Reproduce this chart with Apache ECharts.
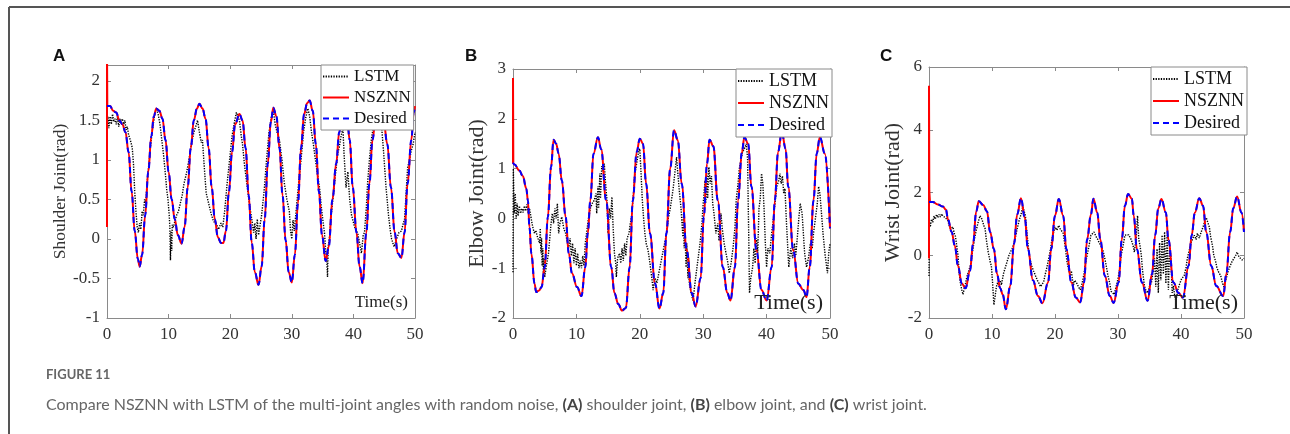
<!DOCTYPE html>
<html>
<head>
<meta charset="utf-8">
<title>Figure 11</title>
<script src="https://cdn.jsdelivr.net/npm/echarts@6/dist/echarts.min.js"></script>
<style>
html, body { margin: 0; padding: 0; background: #fff; }
#main { width: 1290px; height: 434px; }
</style>
</head>
<body>
<div id="main"></div>
<script>
// x ticks shared by all three panels
var timeTicks = [0, 10, 20, 30, 40, 50];
var seriesNames = ['LSTM', 'NSZNN', 'Desired'];

// (A) shoulder joint, [time s, angle rad]
var aDesired = [[0,1.68],[0.5,1.68],[1,1.62],[1.5,1.6],[2,1.5],[2.5,1.45],[3,1.35],[3.5,1.1],[4,0.6],[4.5,0.1],[5,-0.25],[5.3,-0.35],[5.7,-0.2],[6.2,0.3],[6.7,0.85],[7.2,1.3],[7.6,1.55],[8,1.65],[8.5,1.62],[9,1.52],[9.5,1.25],[10,0.85],[10.5,0.5],[11,0.25],[11.5,0.05],[12.1,-0.06],[12.6,0.15],[13.1,0.65],[13.6,1.15],[14.1,1.5],[14.6,1.65],[15,1.71],[15.5,1.65],[16,1.52],[16.5,1.15],[17,0.65],[17.5,0.25],[18,0.02],[18.5,-0.05],[18.9,-0.05],[19.3,0.1],[19.8,0.6],[20.3,1.1],[20.8,1.45],[21.5,1.58],[22,1.5],[22.5,1.15],[23,0.55],[23.5,-0.05],[24,-0.42],[24.6,-0.58],[25.1,-0.35],[25.6,0.25],[26.1,0.95],[26.6,1.48],[27,1.66],[27.5,1.55],[28,1.15],[28.5,0.55],[29,-0.02],[29.5,-0.42],[30,-0.55],[30.5,-0.2],[31,0.45],[31.5,1.15],[32,1.58],[32.5,1.72],[32.9,1.75],[33.4,1.62],[33.9,1.2],[34.4,0.6],[34.9,0.05],[35.5,-0.28],[36,-0.1],[36.6,0.5],[37.2,0.95],[37.7,1.35],[38.2,1.6],[38.6,1.66],[39,1.5],[39.4,1.25],[39.9,0.65],[40.5,0.08],[41,-0.35],[41.5,-0.56],[42.1,0.08],[42.6,0.7],[43.1,1.25],[43.7,1.62],[44.3,1.72],[44.9,1.5],[45.5,1.2],[46.1,0.65],[46.7,0.08],[47.2,-0.18],[47.8,-0.24],[48.3,0.08],[48.8,0.7],[49.4,1.25],[49.8,1.6],[50,1.68]];
var aSpike = [[0,0.15],[0,2.4],[0.05,1.68]];
var aLstm = [[0,1.4],[0.15,1.55],[0.3,1.4],[0.5,1.55],[0.7,1.45],[0.9,1.58],[1.1,1.48],[1.3,1.52],[1.5,1.45],[1.7,1.55],[1.9,1.42],[2.1,1.52],[2.3,1.47],[2.5,1.52],[2.7,1.45],[2.9,1.5],[3.1,1.38],[3.3,1.42],[3.5,1.32],[3.7,1.3],[3.9,1.22],[4.1,1.15],[4.3,0.95],[4.5,0.6],[4.7,0.35],[4.9,0.15],[5.1,0.08],[5.3,0.2],[5.5,0.12],[5.7,0.35],[5.9,0.3],[6.1,0.5],[6.3,0.45],[6.5,0.7],[6.8,0.95],[7.1,1.2],[7.4,1.4],[7.7,1.55],[8,1.65],[8.3,1.58],[8.6,1.45],[8.9,1.25],[9.2,1.05],[9.5,0.8],[9.7,0.62],[9.9,0.5],[10.1,0.3],[10.2,0.15],[10.3,-0.27],[10.4,0.1],[10.5,-0.15],[10.6,0.18],[10.8,0.15],[11,0.22],[11.3,0.3],[11.6,0.35],[11.9,0.45],[12.2,0.55],[12.5,0.7],[12.9,0.83],[13.3,1.0],[13.7,1.2],[14.1,1.35],[14.4,1.42],[14.7,1.5],[15,1.35],[15.3,1.22],[15.5,1.25],[15.8,0.9],[16.1,0.58],[16.5,0.45],[16.9,0.32],[17.3,0.22],[17.7,0.2],[18.1,0.12],[18.5,0.2],[18.8,0.15],[19.1,0.35],[19.5,0.7],[19.9,1.0],[20.3,1.3],[20.7,1.48],[21,1.6],[21.2,1.62],[21.5,1.5],[21.8,1.3],[22,1.2],[22.3,0.95],[22.7,0.7],[23.1,0.45],[23.5,0.25],[23.8,0.08],[24,0.2],[24.2,0.0],[24.4,0.25],[24.6,0.05],[24.8,0.15],[25.1,0.3],[25.5,0.6],[25.9,1.0],[26.3,1.35],[26.7,1.55],[27,1.62],[27.3,1.45],[27.6,1.35],[28,1.25],[28.4,1.0],[28.8,0.7],[29.2,0.5],[29.6,0.35],[29.8,0.1],[30,0.0],[30.2,0.24],[30.4,0.1],[30.7,0.35],[31.1,0.7],[31.5,1.0],[31.9,1.35],[32.3,1.55],[32.6,1.65],[32.9,1.55],[33.2,1.35],[33.5,1.2],[33.7,1.08],[34.1,0.85],[34.5,0.65],[34.8,0.4],[35.1,0.2],[35.3,0.08],[35.5,-0.15],[35.7,-0.3],[35.8,-0.48],[35.9,-0.1],[36.1,0.0],[36.4,0.3],[36.8,0.6],[37.2,0.9],[37.5,1.1],[37.7,1.16],[38,1.3],[38.3,1.4],[38.5,1.05],[38.8,0.65],[39.1,0.85],[39.4,0.5],[39.7,0.3],[39.9,0.24],[40.2,0.15],[40.5,0.1],[40.7,0.07],[41,-0.05],[41.3,-0.18],[41.6,0.05],[41.8,0.08],[42.1,0.4],[42.3,0.7],[42.6,1.0],[42.9,1.25],[43.3,1.45],[43.7,1.55],[44.1,1.6],[44.5,1.5],[44.9,1.1],[45.3,0.65],[45.7,0.3],[46,0.1],[46.2,0.0],[46.6,-0.1],[47,0.0],[47.4,0.08],[47.8,0.1],[48.1,0.2],[48.3,0.24],[48.5,0.5],[48.8,0.9],[49.1,1.0],[49.4,1.12],[49.7,1.2],[50,1.35]];

// (B) elbow joint
var bDesired = [[0,1.12],[0.25,1.08],[1,0.96],[1.55,0.85],[2.1,0.6],[2.35,0.36],[2.6,-0.18],[2.9,-0.71],[3.4,-1.31],[3.65,-1.48],[4.1,-1.45],[4.5,-1.38],[5,-0.98],[5.5,0.03],[6,1.03],[6.4,1.58],[6.8,1.5],[7.2,1.3],[7.7,0.76],[8.3,0.03],[8.8,-0.7],[9.3,-1.1],[10.1,-1.38],[10.8,-1.56],[11.4,-0.98],[11.8,-0.3],[12.2,0.36],[12.7,1.3],[13.4,1.63],[13.9,1.39],[14.7,0.36],[15.5,-0.98],[16,-1.5],[16.6,-1.72],[17.2,-1.85],[17.8,-1.8],[18.4,-0.98],[18.9,0.36],[19.5,1.33],[20,1.6],[20.5,1.5],[21,0.7],[21.6,-0.3],[22.4,-1.3],[23.1,-1.81],[23.7,-1.5],[24.2,-0.3],[24.8,1.0],[25.4,1.77],[26,1.57],[26.6,0.7],[27.4,-0.64],[28.2,-1.5],[28.8,-1.77],[29.6,-1.2],[30.1,0.03],[30.6,1.1],[31,1.58],[31.6,1.45],[32.3,0.36],[33.1,-0.98],[33.8,-1.5],[34.3,-1.65],[35,-0.98],[35.5,0.36],[36.1,1.33],[36.5,1.63],[37.1,1.5],[37.6,0.64],[38.4,-0.64],[39.2,-1.44],[40,-1.65],[40.8,-0.98],[41.3,0.36],[41.8,1.33],[42.4,1.73],[43,1.4],[43.4,0.64],[44.2,-0.64],[45,-1.31],[45.8,-1.44],[46.3,-1.58],[46.8,-0.98],[47.4,0.36],[47.9,1.3],[48.4,1.63],[49.2,1.3],[50,-0.2]];
var bSpike = [[0,1.1],[0,2.82],[0.05,1.12]];
var bLstm = [[0,-1.08],[0.05,1.0],[0.2,0.1],[0.35,0.5],[0.5,0.0],[0.65,0.3],[0.8,0.05],[1,0.25],[1.2,0.1],[1.4,0.2],[1.6,0.12],[1.8,0.25],[2,0.15],[2.2,0.28],[2.4,0.1],[2.6,0.2],[2.8,0.05],[3,-0.1],[3.2,-0.22],[3.4,-0.3],[3.6,-0.24],[3.8,-0.35],[4,-0.32],[4.2,-0.5],[4.3,-0.2],[4.4,-0.7],[4.5,-0.4],[4.6,-0.95],[4.7,-0.6],[4.8,-1.1],[4.9,-0.8],[5,-1.18],[5.2,-1.0],[5.4,-0.85],[5.6,-0.7],[5.8,-0.4],[6,-0.1],[6.2,0.1],[6.4,-0.1],[6.6,0.2],[6.8,0.0],[7,0.3],[7.2,-0.3],[7.4,-0.1],[7.7,0.03],[8,-0.2],[8.3,-0.3],[8.6,-0.5],[8.8,-0.6],[9,-0.4],[9.2,-0.75],[9.4,-0.5],[9.6,-0.9],[9.8,-0.6],[10,-0.95],[10.2,-0.7],[10.4,-1.0],[10.6,-0.85],[10.8,-1.0],[11,-0.75],[11.2,-0.95],[11.4,-0.5],[11.6,-0.3],[11.9,0.0],[12.2,0.2],[12.5,0.3],[12.8,0.36],[13.1,0.5],[13.2,0.1],[13.4,0.64],[13.5,0.2],[13.7,0.9],[13.8,0.4],[14,1.05],[14.2,0.95],[14.4,1.1],[14.6,0.7],[14.8,0.4],[15,-0.3],[15.2,0.2],[15.4,0.0],[15.6,0.43],[15.8,-0.2],[16,-0.7],[16.2,-0.9],[16.3,-1.18],[16.5,-0.8],[16.8,-0.7],[17,-0.9],[17.2,-0.6],[17.4,-0.85],[17.6,-0.5],[17.8,-0.75],[18,-0.4],[18.3,-0.3],[18.5,-0.1],[18.7,0.03],[19,0.5],[19.2,0.87],[19.5,1.1],[19.8,1.33],[20,1.4],[20.2,0.9],[20.4,0.36],[20.6,0.0],[20.8,-0.3],[21,-0.5],[21.3,-0.64],[21.6,-0.9],[21.9,-1.2],[22.1,-1.44],[22.4,-1.2],[22.7,-1.3],[23,-1.1],[23.3,-0.9],[23.7,-0.64],[24,-0.45],[24.2,-0.3],[24.5,0.0],[24.8,0.2],[25.1,0.45],[25.3,0.64],[25.6,1.0],[25.8,1.23],[26,0.9],[26.2,0.6],[26.5,0.2],[26.8,-0.37],[26.9,0.1],[27,-0.6],[27.1,-0.2],[27.3,-0.98],[27.4,-0.5],[27.6,-1.2],[27.7,-0.8],[27.8,-1.3],[28.1,-1.5],[28.4,-1.65],[28.7,-1.3],[28.9,-1.1],[29.2,-0.8],[29.5,-0.5],[29.8,-0.1],[30,0.3],[30.3,0.76],[30.4,0.3],[30.6,0.9],[30.7,0.4],[30.9,1.03],[31.1,0.7],[31.3,0.85],[31.5,0.3],[31.7,0.1],[32,-0.3],[32.3,-0.1],[32.5,-0.45],[32.8,0.1],[33,-0.2],[33.3,-0.5],[33.6,-0.7],[33.9,-0.9],[34.1,-1.1],[34.4,-0.9],[34.7,-0.6],[35,-0.2],[35.2,0.36],[35.5,0.7],[35.7,1.0],[36,1.2],[36.2,1.33],[36.5,1.4],[36.8,1.5],[37,1.2],[37.1,0.3],[37.2,-0.5],[37.3,-1.5],[37.5,-1.2],[37.8,-0.98],[38,-0.6],[38.2,-0.9],[38.4,-0.4],[38.6,-0.7],[38.8,0.2],[39,0.4],[39.2,0.9],[39.4,0.7],[39.6,0.2],[39.8,-0.5],[40,-0.98],[40.2,-0.6],[40.5,-0.7],[40.8,-0.3],[41.1,0.03],[41.4,0.4],[41.6,0.64],[41.9,0.75],[42.1,0.9],[42.3,0.7],[42.5,0.85],[42.7,0.5],[42.9,0.6],[43.1,0.0],[43.3,-0.5],[43.5,-0.98],[43.8,-0.6],[44.1,-0.8],[44.4,-0.5],[44.6,-0.75],[44.9,-0.3],[45.1,0.03],[45.3,0.3],[45.6,0.1],[45.8,-0.3],[46,-0.7],[46.3,-0.98],[46.6,-0.8],[46.9,-0.5],[47.2,-0.6],[47.4,-0.3],[47.7,0.0],[48,0.3],[48.2,0.64],[48.4,0.5],[48.6,0.2],[48.9,-0.3],[49.2,-0.7],[49.4,-0.9],[49.6,-1.1],[49.8,-0.7],[50,-0.5]];

// (C) wrist joint
var cDesired = [[0,1.7],[0.6,1.7],[1.4,1.62],[2.2,1.55],[2.7,1.45],[3,1.15],[3.6,0.74],[4.1,0.3],[4.6,-0.34],[5.2,-0.9],[5.8,-1.05],[6.5,-0.5],[7,0.37],[7.5,1.4],[7.9,1.72],[8.6,1.6],[9.2,1.4],[9.7,0.74],[10.3,0.2],[10.8,-0.6],[11.3,-1.05],[11.7,-1.25],[12.2,-1.72],[12.9,-0.98],[13.5,0.37],[14,1.3],[14.6,1.82],[15.2,1.2],[15.7,0.2],[16.5,-0.8],[17.3,-1.3],[18,-1.53],[18.9,-0.87],[19.4,0.2],[20,1.26],[20.6,1.79],[21.3,1.26],[21.8,0.2],[22.6,-0.87],[23.3,-1.35],[24,-1.5],[24.6,-0.87],[25.1,0.5],[25.7,1.3],[26.1,1.8],[26.7,1.36],[27.2,0.5],[27.9,-0.65],[28.7,-1.3],[29.3,-1.52],[30.1,-0.87],[30.6,0.5],[31.1,1.58],[31.6,1.95],[32.2,1.8],[32.5,1.26],[33,0.2],[33.8,-0.87],[34.7,-1.45],[35.4,-0.6],[35.9,0.64],[36.4,1.5],[36.9,1.79],[37.6,1.36],[38,0.5],[38.8,-0.87],[39.6,-1.2],[40.3,-1.35],[41.2,-0.34],[41.7,0.64],[42.2,1.36],[42.9,1.82],[43.5,1.58],[44,0.74],[44.8,-0.34],[45.6,-0.98],[46.7,-1.3],[47.2,-0.6],[47.8,0.74],[48.3,1.5],[48.9,1.87],[49.6,1.36],[50,0.74]];
var cSpike = [[0,-0.1],[0,5.4],[0.05,2.05],[0.15,1.7]];
var cLstm = [[0,-0.66],[0.05,1.1],[0.2,0.9],[0.4,1.15],[0.6,1.05],[0.8,1.25],[1,1.15],[1.2,1.3],[1.4,1.2],[1.6,1.3],[1.8,1.22],[2,1.32],[2.2,1.25],[2.4,1.3],[2.6,1.2],[2.8,1.25],[3,1.1],[3.2,0.95],[3.4,0.85],[3.6,0.8],[3.8,0.9],[4,0.7],[4.2,0.6],[4.4,0.3],[4.6,0.0],[4.8,-0.6],[5,-0.9],[5.2,-1.1],[5.4,-1.25],[5.6,-1.05],[5.8,-0.9],[6,-0.7],[6.3,-0.5],[6.6,-0.3],[6.9,0.1],[7.2,0.5],[7.5,0.8],[7.8,1.05],[8.1,1.26],[8.4,1.15],[8.7,0.95],[8.9,0.85],[9.1,0.5],[9.4,0.1],[9.7,-0.2],[9.9,-0.34],[10.1,-0.9],[10.3,-1.58],[10.5,-1.3],[10.7,-1.0],[10.9,-0.87],[11.1,-1.0],[11.3,-0.8],[11.5,-0.95],[11.8,-0.6],[12.1,-0.4],[12.4,-0.2],[12.7,0.0],[12.9,0.1],[13.2,0.2],[13.5,0.4],[13.8,0.65],[14,0.85],[14.3,1.1],[14.6,1.3],[14.9,1.55],[15.1,1.4],[15.3,1.26],[15.5,0.8],[15.8,0.2],[16,-0.1],[16.3,-0.34],[16.6,-0.5],[16.9,-0.65],[17.2,-0.8],[17.4,-0.87],[17.7,-1.0],[17.9,-0.98],[18.2,-0.85],[18.4,-0.65],[18.7,-0.4],[19,-0.1],[19.3,0.2],[19.5,0.5],[19.8,0.75],[20,0.9],[20.3,0.8],[20.6,0.95],[20.8,0.85],[21.1,0.9],[21.3,0.7],[21.6,0.3],[21.9,-0.2],[22.1,-0.4],[22.4,-0.65],[22.6,-0.5],[22.9,-0.98],[23.1,-0.8],[23.4,-0.87],[23.7,-1.0],[24,-1.1],[24.3,-0.9],[24.6,-0.6],[24.8,-0.3],[25.1,0.0],[25.4,0.3],[25.7,0.64],[26,0.7],[26.2,0.74],[26.5,0.6],[26.8,0.5],[27,0.4],[27.3,0.3],[27.6,0.15],[27.8,0.0],[28.1,-0.3],[28.4,-0.65],[28.7,-0.9],[28.9,-1.15],[29.2,-1.2],[29.4,-1.25],[29.7,-1.0],[30,-0.75],[30.3,-0.4],[30.5,0.0],[30.8,0.3],[31.1,0.64],[31.4,0.7],[31.7,0.65],[32.1,0.5],[32.4,0.3],[32.6,0.1],[32.9,0.6],[33.1,1.26],[33.3,0.5],[33.5,0.3],[33.7,0.0],[33.9,-0.5],[34.2,-0.98],[34.4,-1.1],[34.7,-1.2],[35,-1.0],[35.3,-0.87],[35.6,-0.5],[35.8,-0.1],[36,-1.0],[36.2,0.2],[36.4,-1.2],[36.6,0.4],[36.8,-0.8],[37,0.64],[37.2,-0.6],[37.4,0.74],[37.6,-0.9],[37.8,0.64],[38,-1.1],[38.2,0.3],[38.4,-0.1],[38.6,-1.2],[38.8,-0.98],[39,-1.3],[39.2,-1.45],[39.5,-1.1],[39.8,-0.9],[40.1,-0.75],[40.5,-0.65],[40.8,-0.4],[41,-0.1],[41.3,0.15],[41.6,0.4],[41.9,0.55],[42.1,0.64],[42.4,0.5],[42.6,0.7],[42.9,0.55],[43.2,0.74],[43.5,0.9],[43.8,1.1],[44,1.2],[44.2,1.26],[44.5,0.9],[44.7,0.6],[45,0.3],[45.2,0.0],[45.5,-0.2],[45.7,-0.4],[46,-0.55],[46.3,-0.65],[46.6,-0.9],[46.8,-1.0],[47,-0.85],[47.3,-0.65],[47.5,-0.5],[47.8,-0.34],[48.1,-0.2],[48.4,-0.1],[48.7,0.0],[48.9,0.1],[49.2,-0.05],[49.5,0.0],[49.7,-0.15],[50,-0.1]];

var myChart = echarts.init(document.getElementById('main'));

var serif = '"Liberation Serif", "Times New Roman", serif';
var axisGray = '#8a8a8a';

var panels = [
  { letter: 'A', yName: 'Shoulder Joint(rad)', yMin: -1, yMax: 2.2, yStep: 0.5,
    lstm: aLstm, desired: aDesired, spike: aSpike,
    grid: { left: 107, top: 65, width: 308, height: 253 },
    nameSize: 17.5, nameGap: 36, legendLeft: 321, legendTop: 65, legendFont: 17,
    timeRight: 408, timeSize: 17, letterX: 53 },
  { letter: 'B', yName: 'Elbow Joint(rad)', yMin: -2, yMax: 3, yStep: 1,
    lstm: bLstm, desired: bDesired, spike: bSpike,
    grid: { left: 513, top: 69, width: 317, height: 249 },
    nameSize: 22, nameGap: 24, legendLeft: 736, legendTop: 69, legendFont: 18,
    timeRight: 823, timeSize: 22, letterX: 465 },
  { letter: 'C', yName: 'Wrist Joint(rad)', yMin: -2, yMax: 6, yStep: 2,
    lstm: cLstm, desired: cDesired, spike: cSpike,
    grid: { left: 929, top: 67, width: 315, height: 251 },
    nameSize: 22, nameGap: 23, legendLeft: 1151, legendTop: 67, legendFont: 18,
    timeRight: 1238, timeSize: 22, letterX: 880 }
];

var grids = [], xAxes = [], yAxes = [], series = [], legends = [], graphics = [];

panels.forEach(function (p, i) {
  grids.push(p.grid);

  var xBase = {
    gridIndex: i, type: 'value', min: timeTicks[0], max: timeTicks[timeTicks.length - 1],
    interval: timeTicks[1] - timeTicks[0],
    axisLine: { show: true, onZero: false, lineStyle: { color: axisGray, width: 1 } },
    axisTick: { show: true, inside: true, length: 4, lineStyle: { color: axisGray } },
    splitLine: { show: false }
  };
  xAxes.push(Object.assign({}, xBase, {
    position: 'bottom',
    axisLabel: { color: '#333', fontFamily: serif, fontSize: 17, margin: 8 }
  }));
  xAxes.push(Object.assign({}, xBase, { position: 'top', axisLabel: { show: false } }));

  var yBase = {
    gridIndex: i, type: 'value', min: p.yMin, max: p.yMax, interval: p.yStep,
    axisLine: { show: true, onZero: false, lineStyle: { color: axisGray, width: 1 } },
    axisTick: { show: true, inside: true, length: 4, lineStyle: { color: axisGray } },
    splitLine: { show: false }
  };
  yAxes.push(Object.assign({}, yBase, {
    position: 'left',
    name: p.yName, nameLocation: 'middle', nameGap: p.nameGap, nameRotate: 90,
    nameTextStyle: { fontFamily: serif, fontSize: p.nameSize, color: '#333' },
    axisLabel: {
      color: '#333', fontFamily: serif, fontSize: 17, margin: 7,
      formatter: function (v) {
        var k = v / p.yStep;
        return Math.abs(k - Math.round(k)) < 1e-6 ? String(+v.toFixed(2)) : '';
      }
    }
  }));
  yAxes.push(Object.assign({}, yBase, { position: 'right', axisLabel: { show: false } }));

  var xi = 2 * i, yi = 2 * i;
  series.push({
    name: 'LSTM', type: 'line', xAxisIndex: xi, yAxisIndex: yi, data: p.lstm,
    symbol: 'none', animation: false,
    lineStyle: { color: '#000', width: 1.4, type: [1.3, 1.3] }, itemStyle: { color: '#000' }
  });
  series.push({
    name: 'NSZNN', type: 'line', xAxisIndex: xi, yAxisIndex: yi, data: p.desired,
    symbol: 'none', smooth: 0.4, smoothMonotone: 'x', animation: false,
    lineStyle: { color: '#ff0000', width: 2 }, itemStyle: { color: '#ff0000' }
  });
  // start-up transient of the network output
  series.push({
    name: 'NSZNN', type: 'line', xAxisIndex: xi, yAxisIndex: yi, data: p.spike,
    symbol: 'none', animation: false,
    lineStyle: { color: '#ff0000', width: 2 }, itemStyle: { color: '#ff0000' }
  });
  series.push({
    name: 'Desired', type: 'line', xAxisIndex: xi, yAxisIndex: yi, data: p.desired,
    symbol: 'none', smooth: 0.4, smoothMonotone: 'x', animation: false,
    lineStyle: { color: '#0000ff', width: 2, type: [6, 4] }, itemStyle: { color: '#0000ff' }
  });

  legends.push({
    data: seriesNames, orient: 'vertical', left: p.legendLeft, top: p.legendTop,
    itemWidth: 26, itemHeight: 12, itemGap: 4, padding: [3, 3, 3, 1],
    backgroundColor: '#fff', borderColor: axisGray, borderWidth: 1, borderRadius: 0,
    selectedMode: false,
    itemStyle: { opacity: 0 },
    textStyle: { fontFamily: serif, fontSize: p.legendFont, color: '#111' }
  });

  graphics.push({
    type: 'text', x: p.timeRight, y: 303, z: 100,
    style: { text: 'Time(s)', font: p.timeSize + 'px ' + serif, fill: '#222', align: 'right', verticalAlign: 'middle' }
  });
  graphics.push({
    type: 'text', x: p.letterX, y: 56, z: 100,
    style: { text: p.letter, font: 'bold 17px "Liberation Sans", Arial, sans-serif', fill: '#111', align: 'left', verticalAlign: 'middle' }
  });
});

// page frame
graphics.push({ type: 'line', shape: { x1: 9, y1: 7, x2: 1290, y2: 7 }, style: { stroke: '#555', lineWidth: 2 } });
graphics.push({ type: 'line', shape: { x1: 9, y1: 7, x2: 9, y2: 434 }, style: { stroke: '#555', lineWidth: 2 } });

// caption
graphics.push({
  type: 'text', x: 46, y: 375,
  style: { text: 'FIGURE 11', font: 'bold 13px Lato, "Noto Sans", sans-serif', fill: '#666', verticalAlign: 'middle' }
});
graphics.push({
  type: 'text', x: 46, y: 405,
  style: {
    text: '{n|Compare NSZNN with LSTM of the multi-joint angles with random noise, }{b|(A)}{n| shoulder joint, }{b|(B)}{n| elbow joint, and }{b|(C)}{n| wrist joint.}',
    verticalAlign: 'middle',
    rich: {
      n: { font: '16px Lato, "Noto Sans", sans-serif', fill: '#666' },
      b: { font: 'bold 16px Lato, "Noto Sans", sans-serif', fill: '#444' }
    }
  }
});

var option = {
  animation: false,
  backgroundColor: '#fff',
  grid: grids,
  xAxis: xAxes,
  yAxis: yAxes,
  legend: legends,
  series: series,
  graphic: graphics
};

myChart.setOption(option);
window.onresize = function () {
  myChart.resize();
};
</script>
</body>
</html>
